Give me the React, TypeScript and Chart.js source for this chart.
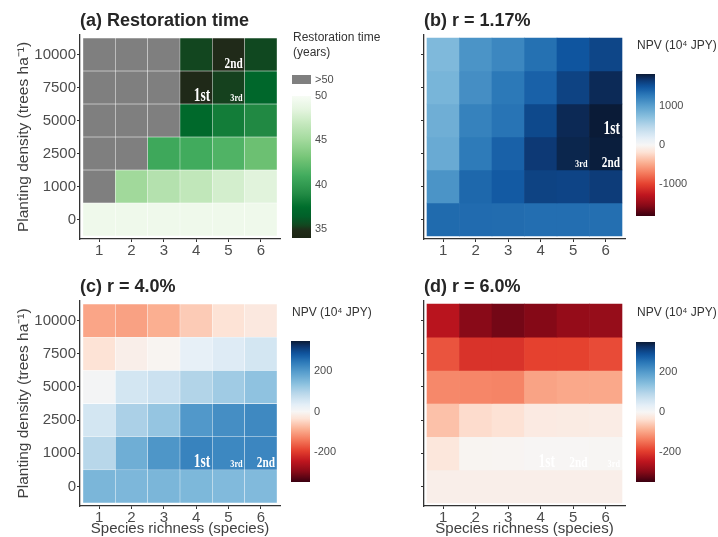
import React, { useEffect, useRef } from 'react';
import { Chart, registerables } from 'chart.js';

Chart.register(...registerables);

const FONT = "'Liberation Sans', Arial, sans-serif";
const RANK_FONT = "'Liberation Serif', 'DejaVu Serif', serif";

// ---------- data ----------
const speciesRichness = [1, 2, 3, 4, 5, 6];
const plantingDensity = ['0', '1000', '2500', '5000', '7500', '10000'];

// rows: planting density 0 (bottom) ... 10000 (top); null = restoration time > 50 years
const restorationTime: (number | null)[][] = [
  [49.3, 49.3, 49.3, 49.3, 49.3, 49.3],
  [null, 45.0, 46.0, 46.7, 47.6, 48.3],
  [null, null, 40.8, 41.0, 41.6, 42.7],
  [null, null, null, 37.2, 38.3, 38.9],
  [null, null, null, 34.6, 35.3, 37.0],
  [null, null, null, 35.4, 34.8, 35.5],
];

const npvR117: number[][] = [
  [1365, 1360, 1355, 1345, 1345, 1340],
  [1090, 1380, 1460, 1600, 1590, 1640],
  [910, 1270, 1420, 1655, 1760, 1800],
  [875, 1220, 1310, 1565, 1740, 1815],
  [820, 1130, 1280, 1420, 1600, 1735],
  [780, 1090, 1180, 1330, 1490, 1580],
];

const npvR40: number[][] = [
  [155, 153, 155, 152, 148, 148],
  [92, 168, 207, 232, 226, 228],
  [56, 105, 127, 203, 217, 224],
  [7, 56, 67, 98, 116, 133],
  [-35, -14, -4, 28, 42, 56],
  [-98, -102, -88, -60, -35, -25],
];

const npvR60: number[][] = [
  [-14, -14, -14, -14, -14, -14],
  [-28, -4, -3.5, -1, -1.5, -2],
  [-70, -42, -36, -22, -20, -18],
  [-126, -128, -130, -100, -95, -95],
  [-175, -210, -210, -193, -192, -183],
  [-252, -298, -312, -301, -287, -286],
];

type Rank = { species: number; density: string; label: string };
const ranksA: Rank[] = [
  { species: 4, density: '7500', label: '1st' },
  { species: 5, density: '10000', label: '2nd' },
  { species: 5, density: '7500', label: '3rd' },
];
const ranksB: Rank[] = [
  { species: 6, density: '5000', label: '1st' },
  { species: 6, density: '2500', label: '2nd' },
  { species: 5, density: '2500', label: '3rd' },
];
const ranksC: Rank[] = [
  { species: 4, density: '1000', label: '1st' },
  { species: 6, density: '1000', label: '2nd' },
  { species: 5, density: '1000', label: '3rd' },
];
const ranksD: Rank[] = [
  { species: 4, density: '1000', label: '1st' },
  { species: 5, density: '1000', label: '2nd' },
  { species: 6, density: '1000', label: '3rd' },
];

const restorationTicks = [35, 40, 45, 50];
const restorationRange = [34, 50];
const npvTicksR117 = [-1000, 0, 1000];
const npvRangeR117 = [-1820, 1820];
const npvTicksHigh = [-200, 0, 200];
const npvRangeHigh = [-350, 350];

// ---------- colour scales ----------
const greenStops: [number, string][] = [
  [34, '#1c2515'], [34.9, '#212b19'], [35.4, '#12461f'], [36.5, '#00612a'],
  [37.5, '#006d2c'], [39, '#238b45'], [41, '#41ab5d'], [43, '#74c476'],
  [45, '#a1d99b'], [47, '#c7e9c0'], [48.5, '#e5f5e0'], [50, '#f7fcf5'],
];
const divStops: [number, string][] = [
  [-1, '#3a0010'], [-0.85, '#8a0a18'], [-0.7, '#c0161f'], [-0.55, '#e5412f'],
  [-0.4, '#f47a5c'], [-0.25, '#fbb092'], [-0.1, '#fde3d6'], [0, '#f7f6f5'],
  [0.1, '#e3eef7'], [0.25, '#bcd9eb'], [0.4, '#88bfde'], [0.55, '#5aa0ce'],
  [0.7, '#2d7ab9'], [0.82, '#0f559f'], [0.92, '#0d3670'], [1, '#0a1a35'],
];
const NA_COLOR = '#7f7f7f';

function hex(c: string) {
  return [parseInt(c.slice(1, 3), 16), parseInt(c.slice(3, 5), 16), parseInt(c.slice(5, 7), 16)];
}
function interp(stops: [number, string][], v: number) {
  if (v <= stops[0][0]) return stops[0][1];
  if (v >= stops[stops.length - 1][0]) return stops[stops.length - 1][1];
  for (let i = 1; i < stops.length; i++) {
    if (v <= stops[i][0]) {
      const [a, ca] = stops[i - 1];
      const [b, cb] = stops[i];
      const t = (v - a) / (b - a);
      const A = hex(ca), B = hex(cb);
      const m = A.map((x, k) => Math.round(x + (B[k] - x) * t));
      return `rgb(${m[0]},${m[1]},${m[2]})`;
    }
  }
  return stops[stops.length - 1][1];
}
const greenColor = (v: number | null) => (v == null ? NA_COLOR : interp(greenStops, v));
const divColor = (max: number) => (v: number | null) => (v == null ? NA_COLOR : interp(divStops, v / max));

const RANK_SIZE: Record<string, number> = { '1st': 18, '2nd': 15, '3rd': 11 };

// ---------- heatmap panel ----------
type HeatProps = {
  left: number; top: number; width: number; height: number;
  padTop: number; padRight: number; yWidth: number; xHeight: number;
  title: string; values: (number | null)[][]; color: (v: number | null) => string;
  ranks: Rank[]; yLabels: boolean; xTitle: boolean; cellBorder: boolean;
};

function Heatmap(p: HeatProps) {
  const ref = useRef<HTMLCanvasElement>(null);
  useEffect(() => {
    const canvas = ref.current!;
    const cells: any[] = [];
    p.values.forEach((row, r) =>
      row.forEach((v, c) => cells.push({ x: speciesRichness[c], y: [r, r + 1], v }))
    );
    const titlePlugin = {
      id: 'panelTitle',
      afterDraw(chart: any) {
        const { ctx, chartArea } = chart;
        ctx.save();
        ctx.font = `bold 18px ${FONT}`;
        ctx.fillStyle = '#262626';
        ctx.textAlign = 'left';
        ctx.textBaseline = 'middle';
        ctx.fillText(p.title, chartArea.left, chartArea.top - 14);
        ctx.restore();
      },
    };
    const rankPlugin = {
      id: 'rankLabels',
      afterDatasetsDraw(chart: any) {
        const { ctx } = chart;
        const xs = chart.scales.x, ys = chart.scales.y;
        ctx.save();
        ctx.fillStyle = '#ffffff';
        ctx.textAlign = 'right';
        ctx.textBaseline = 'alphabetic';
        p.ranks.forEach((rk) => {
          const r = plantingDensity.indexOf(rk.density);
          const x = xs.getPixelForValue(rk.species + 0.5) - 2;
          const y = ys.getPixelForValue(r) - 3;
          ctx.save();
          ctx.translate(x, y);
          ctx.scale(0.75, 1);
          ctx.font = `bold ${RANK_SIZE[rk.label]}px ${RANK_FONT}`;
          ctx.fillText(rk.label, 0, 0);
          ctx.restore();
        });
        ctx.restore();
      },
    };
    const chart = new Chart(canvas, {
      type: 'bar',
      data: {
        datasets: [
          {
            data: cells,
            backgroundColor: (ctx: any) => p.color(ctx.raw ? ctx.raw.v : null),
            borderColor: p.cellBorder ? 'rgba(255,255,255,0.45)' : 'rgba(0,0,0,0)',
            borderWidth: p.cellBorder ? 0.5 : 0,
            borderSkipped: false,
            barPercentage: 1,
            categoryPercentage: 1,
          } as any,
        ],
      },
      options: {
        animation: false,
        responsive: false,
        maintainAspectRatio: false,
        events: [],
        layout: { padding: { left: 0, top: p.padTop, right: p.padRight, bottom: 0 } },
        plugins: { legend: { display: false }, tooltip: { enabled: false }, title: { display: false } },
        scales: {
          x: {
            type: 'linear',
            min: 0.407,
            max: 6.593,
            offset: false,
            grid: { offset: false, drawOnChartArea: false, drawTicks: true, tickLength: 3, color: '#333333' },
            border: { display: true, color: '#333333', width: 1.3 },
            ticks: { color: '#4d4d4d', font: { family: FONT, size: 15 }, padding: 0, autoSkip: false, maxRotation: 0 },
            afterBuildTicks: (s: any) => { s.ticks = speciesRichness.map((v) => ({ value: v })); },
            afterFit: (s: any) => { s.height = p.xHeight; },
            title: {
              display: p.xTitle,
              text: 'Species richness (species)',
              color: '#404040',
              font: { family: FONT, size: 15 },
              padding: { top: 0, bottom: -1 },
            },
          },
          y: {
            type: 'linear',
            min: -0.091,
            max: 6.091,
            grid: { drawOnChartArea: false, drawTicks: true, tickLength: 3, color: '#333333' },
            border: { display: true, color: '#333333', width: 1.3 },
            ticks: {
              color: '#4d4d4d',
              font: { family: FONT, size: 15 },
              padding: 1,
              autoSkip: false,
              callback: (v: any) => (p.yLabels ? plantingDensity[Math.round(Number(v) - 0.5)] : ''),
            },
            afterBuildTicks: (s: any) => { s.ticks = plantingDensity.map((_, i) => ({ value: i + 0.5 })); },
            afterFit: (s: any) => { s.width = p.yWidth; },
            title: {
              display: p.yLabels,
              text: 'Planting density (trees ha\u207B\u00B9)',
              color: '#404040',
              font: { family: FONT, size: 15.5 },
              padding: { top: 14, bottom: 0 },
            },
          },
        },
      } as any,
      plugins: [titlePlugin, rankPlugin],
    });
    return () => chart.destroy();
  }, []);
  return (
    <canvas
      ref={ref}
      width={p.width}
      height={p.height}
      style={{ position: 'absolute', left: p.left, top: p.top, width: p.width, height: p.height }}
    />
  );
}

// ---------- colour bar legend ----------
type BarProps = {
  left: number; top: number; width: number; height: number; barWidth: number;
  padTop: number; padBottom: number; range: number[]; ticks: number[];
  color: (v: number | null) => string; titleLines: { text: string; dy: number }[];
  naKey?: { dy: number; h: number; label: string };
};

function ColorBar(p: BarProps) {
  const ref = useRef<HTMLCanvasElement>(null);
  useEffect(() => {
    const canvas = ref.current!;
    const [min, max] = p.range;
    const textPlugin = {
      id: 'legendText',
      afterDraw(chart: any) {
        const { ctx, chartArea } = chart;
        ctx.save();
        ctx.fillStyle = '#333333';
        ctx.font = `12px ${FONT}`;
        ctx.textAlign = 'left';
        ctx.textBaseline = 'middle';
        p.titleLines.forEach((l) => ctx.fillText(l.text, chartArea.left + 1, chartArea.top + l.dy));
        if (p.naKey) {
          ctx.fillStyle = NA_COLOR;
          ctx.fillRect(chartArea.left, chartArea.top + p.naKey.dy, chartArea.right - chartArea.left, p.naKey.h);
          ctx.fillStyle = '#4d4d4d';
          ctx.font = `11px ${FONT}`;
          ctx.fillText(p.naKey.label, chartArea.right + 4, chartArea.top + p.naKey.dy + p.naKey.h / 2);
        }
        ctx.restore();
      },
    };
    const chart = new Chart(canvas, {
      type: 'bar',
      data: {
        labels: ['bar'],
        datasets: [
          {
            data: [[min, max]],
            backgroundColor: (ctx: any) => {
              const ch = ctx.chart;
              if (!ch.chartArea) return 'rgba(0,0,0,0)';
              const ys = ch.scales.y;
              const g = ch.ctx.createLinearGradient(0, ys.getPixelForValue(min), 0, ys.getPixelForValue(max));
              const N = 60;
              for (let i = 0; i <= N; i++) g.addColorStop(i / N, p.color(min + ((max - min) * i) / N));
              return g;
            },
            borderWidth: 0,
            barPercentage: 1,
            categoryPercentage: 1,
            inflateAmount: 0,
          } as any,
        ],
      },
      options: {
        animation: false,
        responsive: false,
        maintainAspectRatio: false,
        events: [],
        layout: { padding: { left: 0, top: p.padTop, right: 0, bottom: p.padBottom } },
        plugins: { legend: { display: false }, tooltip: { enabled: false } },
        scales: {
          x: { display: false },
          y: {
            position: 'right',
            min,
            max,
            z: 1,
            grid: { drawTicks: false, drawOnChartArea: true, color: 'rgba(255,255,255,0.8)', lineWidth: 1 },
            border: { display: false, dash: [4, p.barWidth - 8] },
            ticks: { color: '#4d4d4d', font: { family: FONT, size: 11 }, padding: 4, callback: (v: any) => String(v) },
            afterBuildTicks: (s: any) => { s.ticks = p.ticks.map((v) => ({ value: v })); },
            afterFit: (s: any) => { s.width = p.width - p.barWidth; },
          },
        },
      } as any,
      plugins: [textPlugin],
    });
    return () => chart.destroy();
  }, []);
  return (
    <canvas
      ref={ref}
      width={p.width}
      height={p.height}
      style={{ position: 'absolute', left: p.left, top: p.top, width: p.width, height: p.height }}
    />
  );
}

export default function App() {
  return (
    <div style={{ position: 'absolute', left: 0, top: 0, width: 718, height: 537, background: '#ffffff', overflow: 'hidden' }}>
      <Heatmap left={0} top={0} width={286} height={268} padTop={35} padRight={6} yWidth={80} xHeight={29}
        title="(a) Restoration time" values={restorationTime} color={greenColor} ranks={ranksA}
        yLabels={true} xTitle={false} cellBorder={true} />
      <Heatmap left={359} top={0} width={268} height={268} padTop={35} padRight={2} yWidth={65} xHeight={29}
        title="(b) r = 1.17%" values={npvR117} color={divColor(npvRangeR117[1])} ranks={ranksB}
        yLabels={false} xTitle={false} cellBorder={false} />
      <Heatmap left={0} top={268} width={286} height={269} padTop={33} padRight={6} yWidth={80} xHeight={31}
        title="(c) r = 4.0%" values={npvR40} color={divColor(npvRangeHigh[1])} ranks={ranksC}
        yLabels={true} xTitle={true} cellBorder={true} />
      <Heatmap left={359} top={268} width={268} height={269} padTop={33} padRight={2} yWidth={65} xHeight={31}
        title="(d) r = 6.0%" values={npvR60} color={divColor(npvRangeHigh[1])} ranks={ranksD}
        yLabels={false} xTitle={true} cellBorder={false} />
      <ColorBar left={292} top={0} width={92} height={260} barWidth={19} padTop={96} padBottom={22}
        range={restorationRange} ticks={restorationTicks} color={greenColor}
        titleLines={[{ text: 'Restoration time', dy: -58 }, { text: '(years)', dy: -43 }]}
        naKey={{ dy: -21, h: 9, label: '>50' }} />
      <ColorBar left={636} top={0} width={82} height={240} barWidth={19} padTop={74} padBottom={24}
        range={npvRangeR117} ticks={npvTicksR117} color={divColor(npvRangeR117[1])}
        titleLines={[{ text: 'NPV (10\u2074 JPY)', dy: -28 }]} />
      <ColorBar left={291} top={268} width={88} height={240} barWidth={19} padTop={73} padBottom={26}
        range={npvRangeHigh} ticks={npvTicksHigh} color={divColor(npvRangeHigh[1])}
        titleLines={[{ text: 'NPV (10\u2074 JPY)', dy: -28 }]} />
      <ColorBar left={636} top={268} width={82} height={240} barWidth={19} padTop={74} padBottom={26}
        range={npvRangeHigh} ticks={npvTicksHigh} color={divColor(npvRangeHigh[1])}
        titleLines={[{ text: 'NPV (10\u2074 JPY)', dy: -29 }]} />
    </div>
  );
}
